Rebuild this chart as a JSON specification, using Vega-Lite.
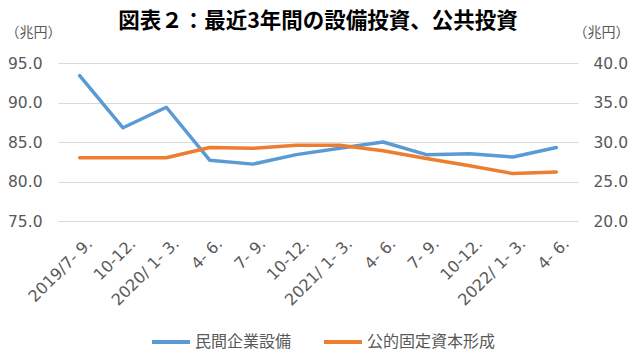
{
  "$schema": "https://vega.github.io/schema/vega-lite/v6.json",
  "width": 520,
  "height": 158,
  "autosize": {"type": "none"},
  "padding": {"left": 58, "top": 63, "right": 62, "bottom": 142},
  "background": "white",
  "title": {
    "text": "図表２：最近3年間の設備投資、公共投資",
    "font": "Noto Sans CJK JP",
    "fontSize": 21.5,
    "fontWeight": "bold",
    "color": "#000000",
    "anchor": "middle",
    "offset": -7
  },
  "config": {
    "view": {"stroke": null},
    "axis": {"labelColor": "#595959", "titleColor": "#595959"}
  },
  "data": {
    "values": [
      {"q": "2019/7- 9.", "i": 1, "s": "民間企業設備", "v": 93.4},
      {"q": "10-12.", "i": 2, "s": "民間企業設備", "v": 86.8},
      {"q": "2020/ 1- 3.", "i": 3, "s": "民間企業設備", "v": 89.4},
      {"q": "4- 6.", "i": 4, "s": "民間企業設備", "v": 82.7},
      {"q": "7- 9.", "i": 5, "s": "民間企業設備", "v": 82.2},
      {"q": "10-12. ", "i": 6, "s": "民間企業設備", "v": 83.4},
      {"q": "2021/ 1- 3.", "i": 7, "s": "民間企業設備", "v": 84.2},
      {"q": "4- 6. ", "i": 8, "s": "民間企業設備", "v": 85.0},
      {"q": "7- 9. ", "i": 9, "s": "民間企業設備", "v": 83.4},
      {"q": "10-12.  ", "i": 10, "s": "民間企業設備", "v": 83.5},
      {"q": "2022/ 1- 3.", "i": 11, "s": "民間企業設備", "v": 83.1},
      {"q": "4- 6.  ", "i": 12, "s": "民間企業設備", "v": 84.3},
      {"q": "2019/7- 9.", "i": 1, "s": "公的固定資本形成", "v": 28.0},
      {"q": "10-12.", "i": 2, "s": "公的固定資本形成", "v": 28.0},
      {"q": "2020/ 1- 3.", "i": 3, "s": "公的固定資本形成", "v": 28.0},
      {"q": "4- 6.", "i": 4, "s": "公的固定資本形成", "v": 29.3},
      {"q": "7- 9.", "i": 5, "s": "公的固定資本形成", "v": 29.2},
      {"q": "10-12. ", "i": 6, "s": "公的固定資本形成", "v": 29.6},
      {"q": "2021/ 1- 3.", "i": 7, "s": "公的固定資本形成", "v": 29.6},
      {"q": "4- 6. ", "i": 8, "s": "公的固定資本形成", "v": 28.9},
      {"q": "7- 9. ", "i": 9, "s": "公的固定資本形成", "v": 27.9},
      {"q": "10-12.  ", "i": 10, "s": "公的固定資本形成", "v": 27.0},
      {"q": "2022/ 1- 3.", "i": 11, "s": "公的固定資本形成", "v": 26.0},
      {"q": "4- 6.  ", "i": 12, "s": "公的固定資本形成", "v": 26.2}
    ]
  },
  "encoding": {
    "x": {
      "field": "q",
      "type": "ordinal",
      "sort": {"field": "i"},
      "scale": {"type": "point", "padding": 0.5},
      "axis": {
        "title": null,
        "labelAngle": -45,
        "labelAlign": "right",
        "labelBaseline": "top",
        "labelPadding": 14,
        "labelOffset": 4,
        "labelFont": "DejaVu Sans",
        "labelFontSize": 16,
        "domain": false,
        "ticks": false,
        "grid": false
      }
    },
    "color": {
      "field": "s",
      "type": "nominal",
      "scale": {"domain": ["民間企業設備", "公的固定資本形成"], "range": ["#5B9BD5", "#ED7D31"]},
      "legend": {
        "title": null,
        "orient": "none",
        "direction": "horizontal",
        "legendX": 92,
        "legendY": 258,
        "symbolType": "stroke",
        "symbolSize": 1444,
        "symbolStrokeWidth": 4,
        "labelFont": "Noto Sans CJK JP",
        "labelFontSize": 16,
        "labelColor": "#595959",
        "labelOffset": 3,
        "columnPadding": 24,
        "labelLimit": 300
      }
    }
  },
  "layer": [
    {
      "transform": [{"filter": "datum.s === '民間企業設備'"}],
      "mark": {"type": "line", "strokeWidth": 3.5, "strokeCap": "round", "strokeJoin": "round"},
      "encoding": {
        "y": {
          "field": "v",
          "type": "quantitative",
          "scale": {"domain": [75, 95], "nice": false, "zero": false},
          "axis": {
            "orient": "left",
            "values": [75, 80, 85, 90, 95],
            "format": ".1f",
            "title": "（兆円）",
            "titleAngle": 0,
            "titleX": -25,
            "titleY": -31,
            "titleAlign": "center",
            "titleBaseline": "middle",
            "titleFont": "Noto Sans CJK JP",
            "titleFontSize": 14,
            "titleFontWeight": "normal",
            "labelFont": "DejaVu Sans",
            "labelFontSize": 15.5,
            "labelPadding": 16,
            "domain": false,
            "ticks": false,
            "grid": true,
            "gridColor": "#d9d9d9",
            "gridWidth": 1
          }
        }
      }
    },
    {
      "transform": [{"filter": "datum.s === '公的固定資本形成'"}],
      "mark": {"type": "line", "strokeWidth": 3.5, "strokeCap": "round", "strokeJoin": "round"},
      "encoding": {
        "y": {
          "field": "v",
          "type": "quantitative",
          "scale": {"domain": [20, 40], "nice": false, "zero": false},
          "axis": {
            "orient": "right",
            "values": [20, 25, 30, 35, 40],
            "format": ".1f",
            "title": "（兆円）",
            "titleAngle": 0,
            "titleX": 23,
            "titleY": -31,
            "titleAlign": "center",
            "titleBaseline": "middle",
            "titleFont": "Noto Sans CJK JP",
            "titleFontSize": 14,
            "titleFontWeight": "normal",
            "labelFont": "DejaVu Sans",
            "labelFontSize": 15.5,
            "labelPadding": 15,
            "domain": false,
            "ticks": false,
            "grid": false
          }
        }
      }
    }
  ],
  "resolve": {"scale": {"y": "independent"}}
}
